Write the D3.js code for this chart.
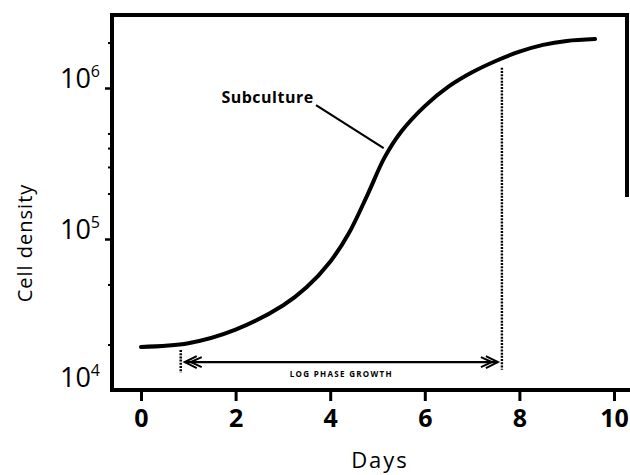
<!DOCTYPE html>
<html>
<head>
<meta charset="utf-8">
<script src="https://cdn.jsdelivr.net/npm/d3@7"></script>
<style>
  body { margin: 0; background: #fff; }
  svg { display: block; font-family: "Open Sans", "Noto Sans", sans-serif; }
</style>
</head>
<body>
<svg id="chart"></svg>
<script>
// growth curve
const days = [0, 1, 2, 3, 3.5, 4.0, 4.4, 4.8, 5.15, 5.5, 6.0, 6.5, 7.0, 7.5, 8.0, 8.5, 9.0, 9.6];
const density = [1.93e4, 2.04e4, 2.51e4, 3.63e4, 4.79e4, 7.08e4, 1.10e5, 2.0e5, 3.47e5, 5.13e5, 7.59e5, 1.02e6, 1.27e6, 1.51e6, 1.74e6, 1.93e6, 2.05e6, 2.11e6];

const xTicks = [0, 2, 4, 6, 8, 10];
const yMajor = [1e4, 1e5, 1e6];
const yMajorExp = ["4", "5", "6"];
const yMinor = [2e4, 5e4, 2e5, 3e5, 4e5, 5e5, 2e6];

// annotations (data units)
const subcultureText = [3.65, 7.9e5];
const subcultureLine = [[3.7, 7.7e5], [5.13, 4.0e5]];
const logPhase = { start: 0.84, end: 7.63, arrowY: 1.53e4, textY: 1.22e4 };
const leftMark = [1.84e4, 1.3e4];
const rightMark = [1.36e6, 1.36e4];

const width = 630, height = 475;
const frame = { left: 112, top: 15, right: 627, bottom: 390 };

const svg = d3.select("#chart").attr("width", width).attr("height", height);

const x = d3.scaleLinear().domain([0, 10]).range([141, 614]);
const y = d3.scaleLog().domain([1e4, 1e6]).range([390, 88]);

// frame
svg.append("path")
    .attr("d", `M${frame.left},${frame.bottom} L${frame.left},${frame.top} L${frame.right},${frame.top} L${frame.right},197`)
    .attr("fill", "none").attr("stroke", "#000").attr("stroke-width", 4);
svg.append("line")
    .attr("x1", frame.left - 2).attr("x2", width).attr("y1", frame.bottom).attr("y2", frame.bottom)
    .attr("stroke", "#000").attr("stroke-width", 4);

// x axis
const xAxis = svg.append("g")
    .attr("transform", `translate(0,${frame.bottom})`)
    .call(d3.axisBottom(x).tickValues(xTicks).tickSize(11).tickFormat(d3.format("d")));
xAxis.select(".domain").remove();
xAxis.selectAll(".tick line").attr("stroke-width", 3);
xAxis.selectAll(".tick text")
    .attr("y", 37).attr("dy", 0)
    .attr("font-size", 25).attr("font-weight", 700)
    .attr("font-family", "'Open Sans', sans-serif");

// y axis ticks
const yAxis = svg.append("g")
    .attr("transform", `translate(${frame.left},0)`)
    .call(d3.axisLeft(y).tickValues(yMajor.slice(1)).tickSize(7).tickFormat(""));
yAxis.select(".domain").remove();
yAxis.selectAll(".tick line").attr("stroke-width", 2.5);
const yMinorAxis = svg.append("g")
    .attr("transform", `translate(${frame.left},0)`)
    .call(d3.axisLeft(y).tickValues(yMinor).tickSize(4).tickFormat(""));
yMinorAxis.select(".domain").remove();
yMinorAxis.selectAll(".tick line").attr("stroke-width", 2);

// y labels 10^n
const yLab = svg.append("g").selectAll("text")
    .data(yMajor)
    .join("text")
    .attr("x", 100)
    .attr("y", (d, i) => i === 0 ? y(d) - 3 : y(d))
    .attr("text-anchor", "end")
    .attr("font-size", 27);
yLab.append("tspan").text("10");
yLab.append("tspan").attr("dy", -11).attr("font-size", 16).text((d, i) => yMajorExp[i]);

// axis titles
svg.append("text")
    .attr("transform", "translate(32,243) rotate(-90)")
    .attr("text-anchor", "middle")
    .attr("font-size", 20).attr("letter-spacing", 1)
    .text("Cell density");
svg.append("text")
    .attr("x", 380).attr("y", 468)
    .attr("text-anchor", "middle")
    .attr("font-size", 22).attr("letter-spacing", 2)
    .text("Days");

// curve
const line = d3.line()
    .x(d => x(d[0]))
    .y(d => y(d[1]))
    .curve(d3.curveCatmullRom.alpha(0.5));
svg.append("path")
    .datum(d3.zip(days, density))
    .attr("d", line)
    .attr("fill", "none")
    .attr("stroke", "#000")
    .attr("stroke-width", 4)
    .attr("stroke-linecap", "round");

// subculture label
svg.append("text")
    .attr("x", x(subcultureText[0])).attr("y", y(subcultureText[1]))
    .attr("text-anchor", "end")
    .attr("font-size", 16).attr("font-weight", 700).attr("letter-spacing", 0.5)
    .text("Subculture");
svg.append("line")
    .attr("x1", x(subcultureLine[0][0])).attr("y1", y(subcultureLine[0][1]))
    .attr("x2", x(subcultureLine[1][0])).attr("y2", y(subcultureLine[1][1]))
    .attr("stroke", "#000").attr("stroke-width", 2.2);

// dotted markers
svg.append("line")
    .attr("x1", x(logPhase.start)).attr("x2", x(logPhase.start))
    .attr("y1", y(leftMark[0])).attr("y2", y(leftMark[1]))
    .attr("stroke", "#000").attr("stroke-width", 2.5).attr("stroke-dasharray", "2,1.2");
svg.append("line")
    .attr("x1", x(logPhase.end)).attr("x2", x(logPhase.end))
    .attr("y1", y(rightMark[0])).attr("y2", y(rightMark[1]))
    .attr("stroke", "#000").attr("stroke-width", 2.4).attr("stroke-dasharray", "2,1.2");

// log phase arrow
const ax1 = x(logPhase.start) + 4, ax2 = x(logPhase.end) - 4, ay = y(logPhase.arrowY);
svg.append("line")
    .attr("x1", ax1).attr("x2", ax2).attr("y1", ay).attr("y2", ay)
    .attr("stroke", "#000").attr("stroke-width", 2.2);
svg.append("path")
    .attr("d", `M${ax1 + 12},${ay - 6} L${ax1},${ay} L${ax1 + 12},${ay + 6} M${ax1 + 17},${ay - 5} L${ax1 + 6},${ay} L${ax1 + 17},${ay + 5}`)
    .attr("fill", "none").attr("stroke", "#000").attr("stroke-width", 2);
svg.append("path")
    .attr("d", `M${ax2 - 12},${ay - 6} L${ax2},${ay} L${ax2 - 12},${ay + 6} M${ax2 - 17},${ay - 5} L${ax2 - 6},${ay} L${ax2 - 17},${ay + 5}`)
    .attr("fill", "none").attr("stroke", "#000").attr("stroke-width", 2);
svg.append("text")
    .attr("x", x((logPhase.start + logPhase.end) / 2)).attr("y", y(logPhase.textY))
    .attr("text-anchor", "middle")
    .attr("font-size", 8).attr("font-weight", 700).attr("letter-spacing", 1.3)
    .text("LOG PHASE GROWTH");
</script>
</body>
</html>
